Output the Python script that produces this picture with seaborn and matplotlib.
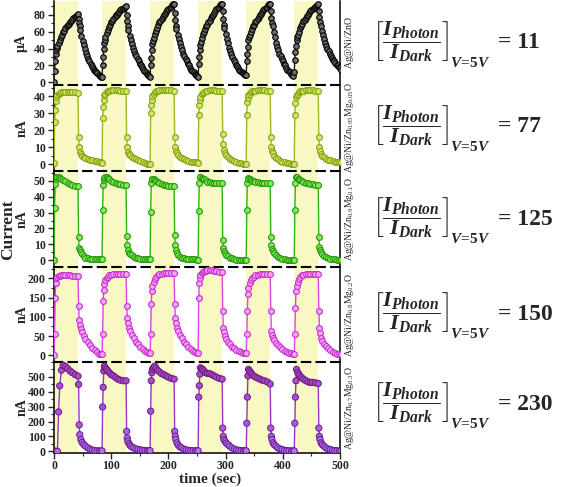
import numpy as np
import pandas as pd
import seaborn as sns
import matplotlib.pyplot as plt
from matplotlib.ticker import MultipleLocator
from matplotlib.colors import LinearSegmentedColormap

# UV on at these times (sec), kept on for 42 s
light_on = [0, 84, 168, 252, 336, 420]
light_len = 42
# sampling times inside one on/off cycle (sec)
cycle_t = [0, 1, 2, 3, 4, 6, 8, 10, 13, 16, 20, 24, 28, 32, 37, 42,
           43, 44, 45, 47, 49, 52, 55, 59, 63, 67, 71, 75, 79, 82]
# ZnO was logged more often
cycle_t_zno = [0, 1, 2, 3, 4, 5, 6, 8, 10, 12, 14, 16, 18, 20, 22, 24, 26, 28, 30, 32, 34, 36, 38, 40, 42,
               43, 44, 45, 46, 48, 50, 52, 54, 56, 58, 60, 62, 64, 66, 68, 70, 72, 74, 76, 78, 80, 82]

# Ag@Ni/ZnO (uA)
zno = [
    [1, 14, 25, 33, 38, 41, 43, 47, 50, 53, 56, 59, 61, 64, 66, 68, 69, 71, 73, 74, 76, 77, 78, 80, 81,
     75, 70, 66, 62, 55, 49, 44, 39, 35, 31, 28, 25, 22, 19, 17, 15, 14, 12, 11, 9, 8, 7],
    [7, 20, 30, 40, 46, 50, 53, 58, 62, 65, 68, 71, 73, 75, 77, 79, 80, 82, 83, 85, 86, 87, 88, 89, 90,
     80, 72, 66, 62, 55, 50, 45, 41, 37, 34, 31, 28, 25, 22, 20, 18, 16, 14, 12, 10, 9, 8],
    [7, 20, 29, 38, 45, 49, 52, 57, 61, 64, 68, 71, 73, 75, 77, 79, 81, 83, 85, 86, 88, 89, 91, 92, 93,
     82, 74, 67, 63, 56, 51, 46, 42, 38, 34, 31, 28, 25, 22, 20, 17, 15, 13, 12, 10, 9, 8],
    [7, 22, 30, 38, 44, 48, 52, 57, 60, 63, 66, 68, 71, 73, 76, 78, 80, 82, 84, 86, 88, 89, 91, 92, 93,
     84, 75, 68, 64, 57, 51, 46, 41, 37, 33, 30, 27, 24, 21, 19, 17, 15, 13, 12, 11, 10, 9],
    [9, 25, 34, 42, 50, 53, 56, 60, 63, 66, 68, 71, 73, 75, 77, 79, 81, 83, 85, 87, 88, 89, 91, 92, 93,
     84, 76, 70, 66, 59, 53, 47, 42, 38, 34, 31, 28, 25, 22, 20, 17, 15, 13, 12, 10, 9, 8],
    [12, 27, 36, 43, 50, 53, 56, 60, 64, 67, 69, 72, 74, 76, 78, 80, 82, 84, 85, 87, 88, 89, 90, 91, 92,
     84, 77, 71, 67, 61, 56, 51, 47, 43, 40, 37, 34, 31, 29, 27, 25, 23, 21, 20, 18, 17, 15],
]
# Mg 0.05 (nA)
mg005 = [
    [0.5, 24.5, 32, 37, 39.5, 40.5, 41.5, 42, 42.3, 42.3, 42.3, 42.3, 42.3, 42.3, 42.2, 42, 16, 10.3, 7.4, 6, 5, 4.2, 3.5, 3, 2.6, 2.2, 2, 1.7, 1.4, 1.2],
    [0.6, 27, 33.6, 37.5, 40.4, 41.5, 42.3, 42.8, 43.2, 43.3, 43.3, 43.3, 43.3, 43.2, 43, 43, 16, 10, 7.4, 6, 5.4, 4.5, 3.7, 3, 2.2, 1.6, 1, 0.6, 0.3, 0.2],
    [0.3, 30, 34.5, 37.5, 40, 41.5, 42.2, 42.8, 43.2, 43.3, 43.4, 43.4, 43.4, 43.3, 43.3, 43.2, 16, 10, 7.5, 6.4, 5.3, 4.3, 3.5, 2.8, 2.2, 1.8, 1.5, 1.3, 1.1, 1],
    [0.5, 28.7, 34.6, 37.5, 39.5, 41, 42, 42.6, 43, 43.2, 43.3, 43.3, 43.3, 43.2, 43, 42.8, 18, 12, 8.3, 6.5, 5.3, 4.2, 3.3, 2.5, 1.8, 1.2, 0.8, 0.5, 0.3, 0.2],
    [0.2, 28.7, 36.7, 39, 40.4, 41.5, 42.3, 42.7, 43, 43.2, 43.3, 43.3, 43.3, 43.3, 43.2, 43, 16, 10, 7.5, 6.4, 5, 3.8, 2.8, 2, 1.4, 1, 0.7, 0.5, 0.4, 0.4],
    [0.4, 28.7, 36, 39.5, 40.4, 41.5, 42.2, 42.7, 43, 43.2, 43.3, 43.3, 43.3, 43.3, 43.2, 43, 16, 10, 7.5, 6, 5, 4, 3.3, 2.7, 2.2, 1.8, 1.5, 1.3, 1.1, 1],
]
# Mg 0.1 (nA)
mg01 = [
    [0, 32.7, 48, 51.5, 52.5, 52.7, 52.5, 52, 51.5, 50.8, 49.8, 48.8, 48, 47.4, 47, 46.8, 14.8, 7.4, 6.2, 5.3, 4, 2.5, 1.6, 1, 0.7, 0.5, 0.4, 0.4, 0.4, 0.4],
    [0.4, 31.6, 47.5, 50.6, 52, 52.7, 52.5, 52, 51, 50.2, 49.5, 48.8, 48.2, 47.8, 47.5, 47.2, 15, 9.5, 6.3, 4.6, 3.8, 3.2, 2.2, 1.5, 1, 0.7, 0.5, 0.4, 0.4, 0.4],
    [0.4, 30.6, 48.5, 51, 51.5, 51.2, 50.6, 50, 49.6, 49, 48.3, 47.6, 47.2, 47, 47, 47, 15.8, 9.5, 6.3, 4.5, 3.3, 2, 1.4, 1, 0.7, 0.5, 0.4, 0.4, 0.4, 0.3],
    [0, 31, 48.5, 52.7, 52.5, 52, 51.5, 51, 50.3, 49.6, 49.2, 48.9, 48.7, 48.6, 48.5, 48.4, 12.7, 7.4, 5.8, 4.2, 3.2, 2.3, 1.6, 1, 0.5, 0.2, 0.1, 0, 0, 0],
    [0, 31.6, 49, 51.7, 51.5, 51, 50.6, 50.2, 49.8, 49.5, 49.2, 49, 48.8, 48.6, 48.5, 48.5, 14.8, 9.5, 7, 5.5, 4.2, 3, 1.7, 1.2, 0.8, 0.5, 0.2, 0, 0, 0],
    [0, 31.6, 48.5, 52.7, 52.3, 51.5, 51, 50.6, 50, 49.5, 49, 48.5, 48, 47.8, 47.6, 47.5, 14.8, 8.4, 6.5, 5.3, 4, 2.8, 2, 1.4, 0.9, 0.6, 0.4, 0.3, 0.2, 0.2],
]
# Mg 0.2 (nA)
mg02 = [
    [0, 55, 149, 188, 200, 203, 205, 206, 207, 207, 207, 207, 207, 206, 206, 205, 128, 93, 80, 68, 60, 50, 42, 34, 27, 20, 14, 9, 5, 3],
    [3, 55, 140, 170, 185, 195, 200, 204, 207, 209, 210, 211, 211, 211, 211, 211, 128, 98, 85, 72, 62, 52, 44, 36, 29, 22, 16, 11, 8, 6],
    [6, 55, 132, 166, 180, 191, 198, 203, 207, 210, 212, 213, 213, 213, 213, 213, 132, 98, 85, 72, 62, 52, 44, 36, 29, 22, 16, 11, 9, 7],
    [7, 149, 188, 200, 209, 214, 217, 218, 219, 220, 220, 220, 219, 218, 217, 216, 115, 72, 60, 50, 42, 35, 29, 23, 18, 14, 11, 9, 7, 6],
    [6, 55, 115, 158, 175, 188, 195, 200, 204, 207, 209, 210, 211, 211, 211, 211, 115, 63, 52, 46, 40, 33, 28, 22, 17, 12, 9, 7, 6, 5],
    [5, 55, 123, 166, 180, 191, 198, 203, 207, 209, 210, 211, 211, 211, 211, 211, 115, 72, 58, 46, 38, 30, 24, 18, 13, 9, 6, 5, 4, 3],
]
# Mg 0.3 (nA)
mg03 = [
    [0, 0, 0, 0, 0, 0, 265, 440, 545, 578, 570, 555, 540, 528, 515, 505, 450, 178, 112, 79, 60, 46, 35, 24, 15, 9, 6, 4, 3, 3],
    [3, 298, 430, 540, 572, 560, 550, 540, 528, 515, 507, 495, 485, 478, 474, 474, 134, 90, 68, 52, 40, 30, 24, 17, 13, 10, 7, 6, 5, 5],
    [5, 270, 474, 528, 550, 561, 572, 560, 545, 535, 522, 515, 507, 498, 490, 485, 134, 101, 80, 57, 42, 30, 24, 15, 10, 7, 5, 4, 4, 4],
    [4, 364, 441, 518, 561, 555, 550, 540, 528, 524, 522, 515, 507, 498, 490, 485, 156, 101, 80, 68, 55, 46, 35, 24, 16, 10, 7, 5, 4, 4],
    [4, 189, 364, 507, 550, 540, 528, 518, 507, 500, 492, 485, 478, 474, 466, 452, 156, 101, 80, 57, 45, 35, 24, 17, 12, 7, 5, 4, 3, 3],
    [3, 189, 364, 474, 550, 530, 518, 505, 495, 485, 475, 467, 463, 463, 460, 456, 156, 101, 80, 57, 45, 35, 24, 17, 12, 7, 5, 4, 3, 3],
]

samples = [r"$\mathregular{Ag@Ni/ZnO}$",
           r"$\mathregular{Ag@Ni/Zn_{0.95}Mg_{0.05}O}$",
           r"$\mathregular{Ag@Ni/Zn_{0.9}Mg_{0.1}O}$",
           r"$\mathregular{Ag@Ni/Zn_{0.8}Mg_{0.2}O}$",
           r"$\mathregular{Ag@Ni/Zn_{0.7}Mg_{0.3}O}$"]
ratios = ["11", "77", "125", "150", "230"]
units = ["µA", "nA", "nA", "nA", "nA"]

sns.set_style("ticks")
plt.rcParams["font.family"] = ["Liberation Serif", "DejaVu Serif"]
plt.rcParams["font.weight"] = "bold"
plt.rcParams["mathtext.fontset"] = "custom"
plt.rcParams["mathtext.rm"] = "Liberation Serif:bold"
plt.rcParams["mathtext.it"] = "Liberation Serif:italic:bold"
plt.rcParams["mathtext.bf"] = "Liberation Serif:bold"

t_common = [s + o for s in light_on for o in cycle_t]
t_zno = [s + o for s in light_on for o in cycle_t_zno]
series = [zno, mg005, mg01, mg02, mg03]
times = [t_zno, t_common, t_common, t_common, t_common]

# panel edges in pixels (top, bottom), figure is 569 x 487
edges = [1, 85, 171, 267, 362, 453]
ylims = [(-3, 96), (-4, 46.5), (-4.4, 56.3), (-17, 229), (-11, 600)]
major = [20, 10, 10, 50, 100]
minor = [10, 5, 5, 25, 50]
line_c = ["#1a1a1a", "#9ab820", "#2eb312", "#dd44e6", "#9a35c8"]
edge_c = ["#000000", "#86a30e", "#229a0a", "#c82ed2", "#6a1a90"]
face_c = ["#6e6e6e", "#d2e66e", "#86e85a", "#f3a6f7", "#c890f0"]
eq_y = [42, 126, 218, 313, 403]

fig = plt.figure(figsize=(5.69, 4.87), dpi=100)
W, H = 569, 487
x0, x1 = 54, 340
eq_texts = []

for i, vals in enumerate(series):
    top, bot = edges[i], edges[i + 1]
    ax = fig.add_axes([x0 / W, 1 - bot / H, (x1 - x0) / W, (bot - top) / H])
    df = pd.DataFrame({"t": times[i], "I": np.ravel(vals)})
    for s in light_on:
        ax.axvspan(s, s + light_len, color="#f8f8c2", lw=0, zorder=0)
    if i < 4:
        ms = 4.0 if i == 0 else 4.2
        sns.lineplot(data=df, x="t", y="I", ax=ax, color=line_c[i], lw=1,
                     marker="o", markersize=ms, markeredgecolor=edge_c[i],
                     markerfacecolor=face_c[i], markeredgewidth=0.8, zorder=3)
    else:
        sns.lineplot(data=df, x="t", y="I", ax=ax, color=line_c[i], lw=1, zorder=3)
        cmap = LinearSegmentedColormap.from_list("pv", ["#b070f0", "#a050e0", "#b04ab0"])
        sns.scatterplot(data=df, x="t", y="I", hue="I", palette=cmap,
                        hue_norm=(0, 580), legend=False, s=20, ax=ax,
                        edgecolor="#6a1a8a", linewidth=0.7, zorder=4)
    ax.set_xlim(0, 500)
    ax.set_ylim(*ylims[i])
    ax.yaxis.set_major_locator(MultipleLocator(major[i]))
    ax.set_yticks([v for v in ax.get_yticks() if 0 <= v <= ylims[i][1] - 1])
    ax.yaxis.set_minor_locator(MultipleLocator(minor[i]))
    ax.tick_params(axis="y", which="major", direction="out", length=4, width=1, labelsize=8.5, pad=2)
    ax.tick_params(axis="y", which="minor", direction="out", length=2, width=0.8)
    ax.set_ylabel(units[i], fontsize=10, fontweight="bold")
    ax.yaxis.set_label_coords(-0.09, 0.5)
    ax.set_xlabel("")
    for sp in ["left", "right", "bottom", "top"]:
        ax.spines[sp].set_linewidth(1.1)
        ax.spines[sp].set_color("black")
    if i == 0:
        ax.spines["top"].set_visible(False)
    else:
        ax.spines["top"].set_linestyle((0, (4, 3)))
        ax.spines["top"].set_linewidth(1.5)
    if i < 4:
        ax.spines["bottom"].set_visible(False)
        ax.tick_params(axis="x", which="both", bottom=False, labelbottom=False)
    else:
        ax.xaxis.set_major_locator(MultipleLocator(100))
        ax.xaxis.set_minor_locator(MultipleLocator(50))
        ax.tick_params(axis="x", which="major", direction="out", length=4, width=1, labelsize=8.5, pad=1)
        ax.tick_params(axis="x", which="minor", direction="out", length=2, width=0.8)
    ax.text(1.012, 0.5, samples[i], transform=ax.transAxes, rotation=90,
            ha="left", va="center", fontsize=7, fontweight="normal")

    yc = eq_y[i]
    eq = fig.text(372 / W, 1 - yc / H,
                  r"$\left[\dfrac{I_{Photon}}{I_{Dark}}\right]$",
                  ha="left", va="center", fontsize=16)
    eq_texts.append(eq)
    fig.text(498 / W, 1 - (yc + 1) / H, "= " + ratios[i],
             ha="left", va="center", fontsize=17, fontweight="bold")

fig.text(210 / W, 0.5 / H, "time (sec)", ha="center", va="bottom",
         fontsize=11, fontweight="bold")
fig.text(8 / W, 1 - 230 / H, "Current", rotation=90, ha="center", va="center",
         fontsize=12.5, fontweight="bold")

# subscript V=5V hangs off the bottom right of each bracket
fig.canvas.draw()
rend = fig.canvas.get_renderer()
for eq in eq_texts:
    bb = eq.get_window_extent(renderer=rend)
    fig.text((bb.x1 + 1) / W, (bb.y0 + 1) / H, r"$V\!=\!5V$",
             ha="left", va="center", fontsize=11)

fig.savefig("out.png", dpi=100)
